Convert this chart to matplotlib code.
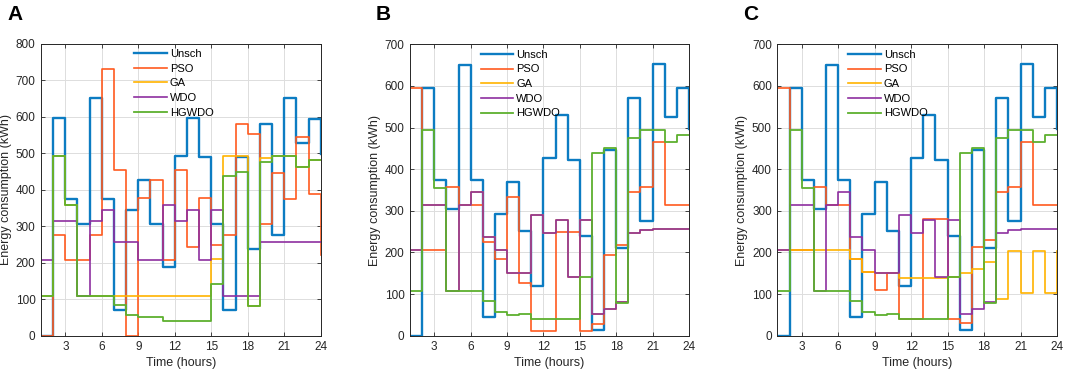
import numpy as np
import matplotlib
matplotlib.use('Agg')
import matplotlib.pyplot as plt

plt.rcParams['font.family'] = ['Liberation Sans', 'DejaVu Sans']

hours = np.arange(1, 25)
names = ['Unsch', 'PSO', 'GA', 'WDO', 'HGWDO']

# panel A
unsch_a = [0, 595, 375, 305, 650, 375, 70, 345, 425, 305, 188, 493, 595, 490, 305, 70, 490, 238, 580, 275, 650, 527, 593, 498]
pso_a = [0, 275, 207, 207, 275, 730, 455, 0, 378, 425, 207, 455, 243, 378, 248, 275, 580, 551, 305, 445, 374, 543, 388, 220]
ga_a = [108, 493, 357, 108, 108, 108, 108, 108, 108, 108, 108, 108, 108, 108, 210, 492, 492, 80, 487, 493, 493, 463, 481, 481]
wdo_a = [207, 313, 313, 108, 313, 345, 257, 257, 207, 207, 357, 313, 345, 207, 345, 108, 108, 108, 257, 257, 257, 257, 257, 257]
hgwdo_a = [108, 493, 357, 108, 108, 108, 85, 57, 50, 50, 40, 40, 40, 40, 142, 438, 449, 80, 475, 493, 493, 463, 481, 481]

# panel B
unsch_b = [0, 595, 375, 305, 650, 375, 46, 293, 370, 252, 120, 428, 529, 422, 240, 13, 445, 210, 570, 276, 652, 526, 595, 496]
pso_b = [595, 207, 207, 358, 313, 313, 226, 184, 333, 127, 11, 11, 250, 250, 12, 27, 194, 218, 346, 358, 465, 314, 314, 314]
wdo_b = [207, 313, 313, 108, 313, 345, 236, 206, 151, 151, 290, 246, 278, 141, 278, 51, 63, 80, 246, 255, 257, 257, 257, 257]
ga_b = list(wdo_b)  # GA lies under WDO in this case
hgwdo_b = [107, 494, 356, 107, 107, 107, 84, 56, 49, 51, 40, 40, 40, 40, 142, 438, 450, 79, 476, 495, 495, 465, 482, 482]

# panel C
unsch_c = list(unsch_b)
pso_c = [595, 207, 207, 358, 313, 313, 184, 154, 110, 151, 40, 40, 280, 280, 40, 30, 214, 230, 346, 358, 465, 314, 314, 314]
ga_c = [207, 207, 207, 207, 207, 207, 184, 154, 151, 151, 138, 138, 138, 138, 140, 151, 161, 178, 87, 204, 102, 204, 102, 204]
wdo_c = list(wdo_b)
hgwdo_c = list(hgwdo_b)

colors = ['#0C7CC2', '#FF5A1F', '#FFB300', '#8E2FA0', '#5DB02E']
widths = [1.7, 1.2, 1.2, 1.2, 1.3]

panels = [
    ('A', [unsch_a, pso_a, ga_a, wdo_a, hgwdo_a], 800, [41, 320.7, 43.5], 0.33),
    ('B', [unsch_b, pso_b, ga_b, wdo_b, hgwdo_b], 700, [410, 689, 44.3], 0.25),
    ('C', [unsch_c, pso_c, ga_c, wdo_c, hgwdo_c], 700, [777.4, 1057, 44.3], 0.25),
]

W, H = 1065, 373
fig = plt.figure(figsize=(W / 100, H / 100), dpi=100)
dark = '#262626'

for label, series, ymax, (x0, x1, ytop), legx in panels:
    ax = fig.add_axes([x0 / W, (H - 335.7) / H, (x1 - x0) / W, (335.7 - ytop) / H])
    for name, vals, c, lw in zip(names, series, colors, widths):
        ax.step(hours, vals, where='post', color=c, lw=lw, label=name)
    ax.set_xlim(1, 24)
    ax.set_ylim(0, ymax)
    ax.set_xticks(np.arange(3, 25, 3))
    ax.set_yticks(np.arange(0, ymax + 1, 100))
    ax.grid(True, color='#dddddd', lw=0.7)
    ax.set_axisbelow(True)
    ax.tick_params(direction='in', length=3, width=0.6, top=True, right=True,
                   labelsize=8.5, colors=dark, pad=4)
    for s in ax.spines.values():
        s.set_color(dark)
        s.set_linewidth(0.7)
    ax.set_xlabel('Time (hours)', fontsize=9, color=dark, labelpad=3)
    ax.set_ylabel('Energy consumption (kWh)', fontsize=9, color=dark)
    ax.yaxis.set_label_coords(-29 / (x1 - x0), 0.5)
    ax.legend(loc='upper left', bbox_to_anchor=(legx, 0.985), frameon=False,
              fontsize=8, handlelength=2.9, handletextpad=0.3,
              labelspacing=0.42, borderpad=0.1, borderaxespad=0)
    fig.text((x0 - 34) / W, 1 - 14 / H, label, fontsize=15, fontweight='bold',
             va='center', ha='left')

fig.savefig('out.png', dpi=100)
